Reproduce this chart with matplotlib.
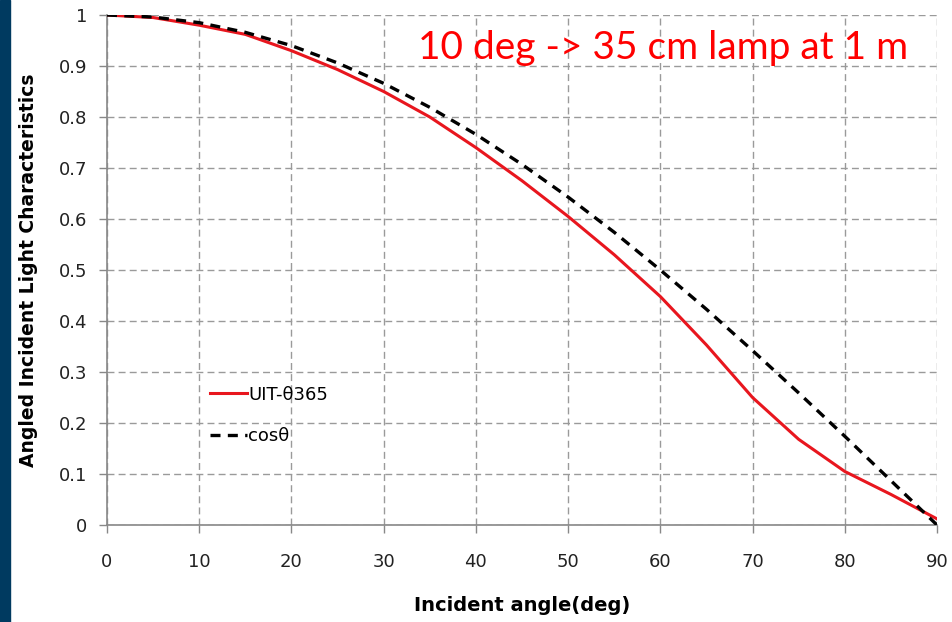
import matplotlib
matplotlib.use("Agg")
import matplotlib.pyplot as plt
from matplotlib.patches import Rectangle

# incident angle (deg)
angle = [0, 5, 10, 15, 20, 25, 30, 35, 40, 45, 50, 55, 60, 65, 70, 75, 80, 85, 90]
# measured sensor response
uit = [1.0, 0.995, 0.98, 0.962, 0.93, 0.893, 0.85, 0.80, 0.74, 0.675, 0.605,
       0.53, 0.448, 0.353, 0.25, 0.168, 0.105, 0.06, 0.012]
# ideal cosine response
cos_ref = [1.0, 0.996, 0.985, 0.966, 0.94, 0.906, 0.866, 0.819, 0.766, 0.707,
           0.643, 0.574, 0.5, 0.423, 0.342, 0.259, 0.174, 0.087, 0.0]

xticks = [0, 10, 20, 30, 40, 50, 60, 70, 80, 90]
yticks = [0, 0.1, 0.2, 0.3, 0.4, 0.5, 0.6, 0.7, 0.8, 0.9, 1]
ytick_labels = ["0", "0.1", "0.2", "0.3", "0.4", "0.5", "0.6", "0.7", "0.8", "0.9", "1"]

fig = plt.figure(figsize=(9.52, 6.22), dpi=100)
fig.patches.append(Rectangle((0, 0), 10 / 952, 1, transform=fig.transFigure,
                             color="#003a60", zorder=0))

ax = fig.add_axes([107 / 952, 1 - 525 / 622, 830 / 952, 510 / 622])

ax.plot(angle, uit, color="#e8161e", lw=2.2, label="UIT-\u03b8365", zorder=3)
ax.plot(angle, cos_ref, color="black", lw=2.4, ls=(0, (3.0, 2.2)),
        label="cos\u03b8", zorder=4)

ax.set_xlim(0, 90)
ax.set_ylim(0, 1)
ax.set_xticks(xticks)
ax.set_yticks(yticks)
ax.set_yticklabels(ytick_labels)
ax.grid(True, color="#9a9a9a", ls=(0, (5, 3)), lw=1.0)
ax.tick_params(labelsize=13, colors="#888888", length=6, width=1, labelcolor="#222222",
               pad=8)
ax.tick_params(axis="x", pad=14)
for s in ["top", "right"]:
    ax.spines[s].set_visible(False)
for s in ["left", "bottom"]:
    ax.spines[s].set_color("#888888")
    ax.spines[s].set_linewidth(1.2)

ax.set_xlabel("Incident angle(deg)", fontsize=14, fontweight="bold", labelpad=18)
ax.set_ylabel("Angled Incident Light Characteristics", fontsize=13.5,
              fontweight="bold", labelpad=15)

leg = ax.legend(loc="lower left", bbox_to_anchor=(0.105, 0.125), frameon=False,
                fontsize=13, handlelength=2.0, handletextpad=0.1,
                labelspacing=1.3)

ax.text(0.965, 0.935, "10 deg -> 35 cm lamp at 1 m", transform=ax.transAxes,
        ha="right", va="center", color="#ff0000", fontsize=28, family="Lato")

fig.savefig("out.png", dpi=100)
